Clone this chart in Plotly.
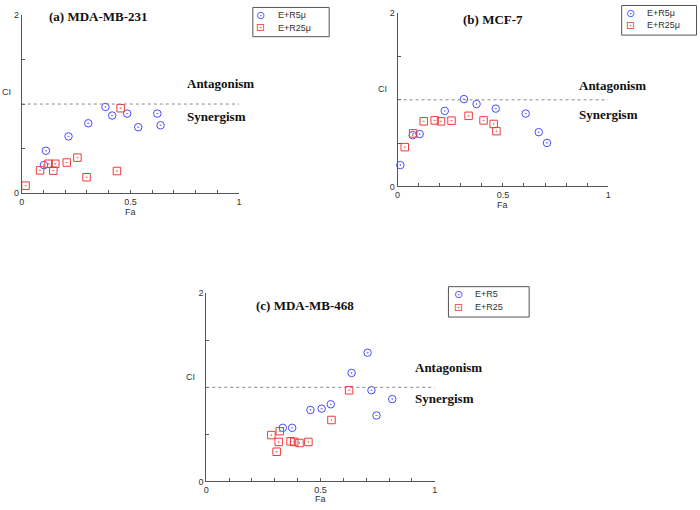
import plotly.graph_objects as go

W, H = 700, 510

# ---------------- data ----------------
# (a) MDA-MB-231
a_fa_r5 = [0.385, 0.416, 0.485, 0.306, 0.215, 0.111, 0.102, 0.536, 0.624, 0.639]
a_ci_r5 = [0.967, 0.871, 0.893, 0.784, 0.637, 0.476, 0.315, 0.740, 0.893, 0.762]
a_fa_r25 = [0.455, 0.017, 0.084, 0.123, 0.154, 0.145, 0.207, 0.256, 0.298, 0.438]
a_ci_r25 = [0.953, 0.085, 0.256, 0.330, 0.330, 0.253, 0.344, 0.399, 0.179, 0.249]

# (b) MCF-7
b_fa_r5 = [0.013, 0.072, 0.105, 0.224, 0.315, 0.375, 0.466, 0.608, 0.670, 0.709]
b_ci_r5 = [0.246, 0.592, 0.604, 0.872, 1.008, 0.951, 0.898, 0.841, 0.626, 0.502]
b_fa_r25 = [0.034, 0.074, 0.124, 0.176, 0.206, 0.256, 0.337, 0.408, 0.456, 0.469]
b_ci_r25 = [0.453, 0.612, 0.751, 0.762, 0.751, 0.759, 0.815, 0.762, 0.721, 0.638]

# (c) MDA-MB-468
c_fa_r5 = [0.706, 0.636, 0.723, 0.814, 0.745, 0.545, 0.505, 0.456, 0.376, 0.335]
c_ci_r5 = [1.368, 1.153, 0.969, 0.875, 0.701, 0.820, 0.774, 0.760, 0.570, 0.570]
c_fa_r25 = [0.625, 0.548, 0.285, 0.322, 0.317, 0.308, 0.369, 0.385, 0.408, 0.447]
c_ci_r25 = [0.969, 0.653, 0.493, 0.534, 0.420, 0.316, 0.427, 0.420, 0.409, 0.420]

titles = ["(a) MDA-MB-231", "(b) MCF-7", "(c) MDA-MB-468"]
legend_labels = [["E+R5\u03bc", "E+R25\u03bc"], ["E+R5\u03bc", "E+R25\u03bc"], ["E+R5", "E+R25"]]
x_tickvals = [i / 10 for i in range(11)]
x_ticktext = ["0", "", "", "", "", "0.5", "", "", "", "", "1"]
y_tickvals = [0, 0.5, 1, 1.5, 2]
y_ticktext = ["0", "", "", "", "2"]

# ---------------- style ----------------
BLUE = "#4a4aff"
RED = "#ee3b3b"
AXC = "#555555"
SANS = "Liberation Sans"
SERIF = "Liberation Serif"


def px(x):
    return x / W


def py(y):
    return 1 - y / H


panels = [
    dict(fa5=a_fa_r5, ci5=a_ci_r5, fa25=a_fa_r25, ci25=a_ci_r25,
         xpx=(19, 238), ypx=(192, 10),
         title_xy=(0.118, 1.98), ant_xy=(0.752, 1.235), syn_xy=(0.752, 0.855),
         fa_px=(129, 211), ci_px=(4, 89),
         leg_box=(252, 2.5, 329, 32.3), leg_sym=260, leg_txt=275, leg_rows=(10.3, 23.3)),
    dict(fa5=b_fa_r5, ci5=b_ci_r5, fa25=b_fa_r25, ci25=b_ci_r25,
         xpx=(398, 610.5), ypx=(185, 8.4),
         title_xy=(0.30, 1.925), ant_xy=(0.853, 1.17), syn_xy=(0.853, 0.835),
         fa_px=(504, 204), ci_px=(383, 86),
         leg_box=(624, 0.5, 699.5, 30.7), leg_sym=633.3, leg_txt=647.7, leg_rows=(8.3, 20.7)),
    dict(fa5=c_fa_r5, ci5=c_ci_r5, fa25=c_fa_r25, ci25=c_ci_r25,
         xpx=(205, 435.5), ypx=(486, 294),
         title_xy=(0.207, 1.868), ant_xy=(0.904, 1.215), syn_xy=(0.904, 0.88),
         fa_px=(320, 503.7), ci_px=(189, 379),
         leg_box=(449.3, 287.3, 530.7, 318.3), leg_sym=459, leg_txt=474, leg_rows=(295, 308.3)),
]

fig = go.Figure()
shapes = []
annotations = []
layout_axes = {}

for i, p in enumerate(panels):
    n = "" if i == 0 else str(i + 1)
    xa, ya = "x" + n, "y" + n
    fig.add_trace(go.Scatter(
        x=p["fa5"], y=p["ci5"], mode="markers", name=legend_labels[i][0],
        xaxis=xa, yaxis=ya, showlegend=False, cliponaxis=False, hoverinfo="skip",
        marker=dict(symbol="circle-open-dot", size=7.5, color=BLUE, line=dict(width=1, color=BLUE))))
    fig.add_trace(go.Scatter(
        x=p["fa25"], y=p["ci25"], mode="markers", name=legend_labels[i][1],
        xaxis=xa, yaxis=ya, showlegend=False, cliponaxis=False, hoverinfo="skip",
        marker=dict(symbol="square-open-dot", size=7.5, color=RED, line=dict(width=1, color=RED))))

    layout_axes["xaxis" + n] = dict(
        domain=[px(p["xpx"][0]), px(p["xpx"][1])], range=[0, 1], anchor=ya,
        showline=True, linecolor=AXC, linewidth=1, ticks="inside", ticklen=3,
        tickcolor=AXC, tickvals=x_tickvals, ticktext=x_ticktext,
        tickfont=dict(family=SANS, size=9, color="#333"), showgrid=False, zeroline=False,
        fixedrange=True)
    layout_axes["yaxis" + n] = dict(
        domain=[py(p["ypx"][0]), py(p["ypx"][1])], range=[0, 2], anchor=xa,
        showline=True, linecolor=AXC, linewidth=1, ticks="inside", ticklen=3,
        tickcolor=AXC, tickvals=y_tickvals, ticktext=y_ticktext,
        tickfont=dict(family=SANS, size=9, color="#333"), showgrid=False, zeroline=False,
        fixedrange=True)

    # CI = 1 reference line
    shapes.append(dict(type="line", xref=xa, yref=ya, x0=0, x1=1, y0=1, y1=1,
                       line=dict(color="#8a8a8a", width=1, dash="dot")))

    # title and region labels
    annotations.append(dict(xref=xa, yref=ya, x=p["title_xy"][0], y=p["title_xy"][1],
                            text="<b>%s</b>" % titles[i], showarrow=False, xanchor="left",
                            yanchor="middle", font=dict(family=SERIF, size=13, color="#111")))
    annotations.append(dict(xref=xa, yref=ya, x=p["ant_xy"][0], y=p["ant_xy"][1],
                            text="<b>Antagonism</b>", showarrow=False, xanchor="left",
                            yanchor="middle", font=dict(family=SERIF, size=13, color="#111")))
    annotations.append(dict(xref=xa, yref=ya, x=p["syn_xy"][0], y=p["syn_xy"][1],
                            text="<b>Synergism</b>", showarrow=False, xanchor="left",
                            yanchor="middle", font=dict(family=SERIF, size=13, color="#111")))
    # axis titles
    annotations.append(dict(xref="paper", yref="paper", x=px(p["fa_px"][0]), y=py(p["fa_px"][1]),
                            text="Fa", showarrow=False, xanchor="center", yanchor="middle",
                            font=dict(family=SANS, size=9, color="#333")))
    annotations.append(dict(xref="paper", yref="paper", x=px(p["ci_px"][0]), y=py(p["ci_px"][1]),
                            text="CI", showarrow=False, xanchor="center", yanchor="middle",
                            font=dict(family=SANS, size=9, color="#333")))

    # legend box
    x0, y0, x1, y1 = p["leg_box"]
    shapes.append(dict(type="rect", xref="paper", yref="paper",
                       x0=px(x0), x1=px(x1), y0=py(y1), y1=py(y0),
                       line=dict(color="#555", width=1), fillcolor="white"))
    for j, (glyph, col) in enumerate([("\u2299", BLUE), ("\u22a1", RED)]):
        ry = p["leg_rows"][j]
        annotations.append(dict(xref="paper", yref="paper", x=px(p["leg_sym"]), y=py(ry),
                                text=glyph, showarrow=False, xanchor="center", yanchor="middle",
                                font=dict(family="DejaVu Sans", size=11, color=col)))
        annotations.append(dict(xref="paper", yref="paper", x=px(p["leg_txt"]), y=py(ry),
                                text=legend_labels[i][j], showarrow=False, xanchor="left",
                                yanchor="middle", font=dict(family=SANS, size=9, color="#333")))

fig.update_layout(
    width=W, height=H, margin=dict(l=0, r=0, t=0, b=0),
    paper_bgcolor="white", plot_bgcolor="white", showlegend=False, hovermode=False,
    shapes=shapes, annotations=annotations, **layout_axes)

fig.write_html("out.html", config={"displayModeBar": False, "staticPlot": True},
               post_script="document.body.style.margin='0px';document.body.style.overflow='hidden';")
